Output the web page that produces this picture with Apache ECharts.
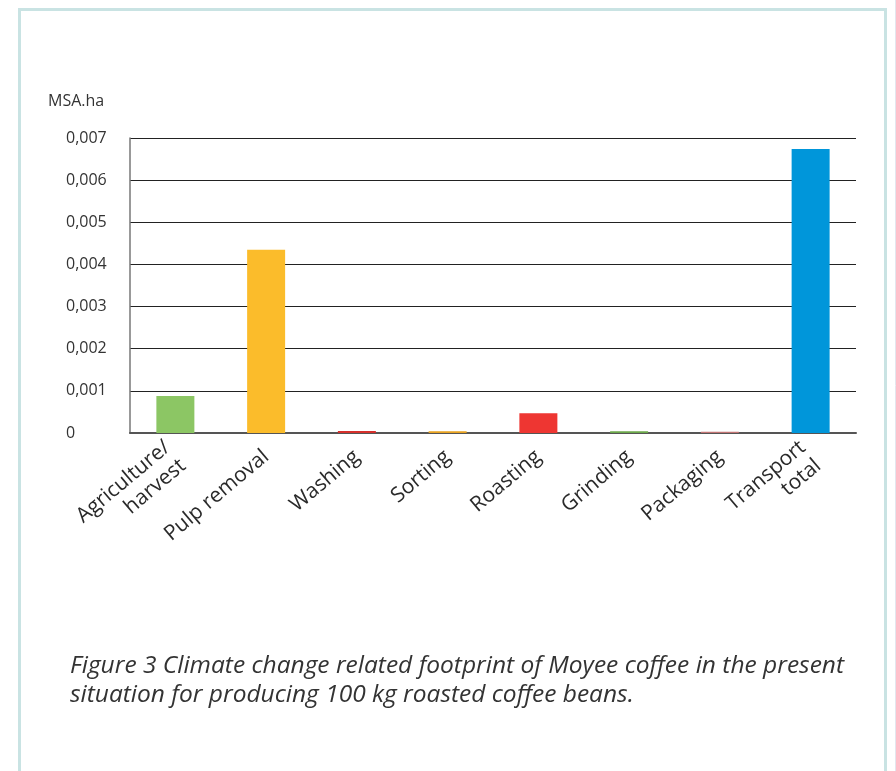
<!DOCTYPE html>
<html>
<head>
<meta charset="utf-8">
<script src="https://cdn.jsdelivr.net/npm/echarts@6/dist/echarts.min.js"></script>
<style>
html,body{margin:0;padding:0;background:#fff;}
#c{width:896px;height:771px;}
</style>
</head>
<body>
<div id="c"></div>
<script>
const categories = ['Agriculture/\nharvest','Pulp removal','Washing','Sorting','Roasting','Grinding','Packaging','Transport\ntotal'];
const values = [0.00088, 0.00435, 0.00005, 0.00004, 0.00047, 0.00004, 0.00003, 0.00674];
const barColors = ['#8CC664','#FBBC2B','#D6302C','#E9A321','#EE3632','#6CA94B','#C27474','#0096DA'];
const yTicks = {min:0, max:0.007, step:0.001};
const unitLabel = 'MSA.ha';
const captionLines = ['Figure 3 Climate change related footprint of Moyee coffee in the present','situation for producing 100 kg roasted coffee beans.'];

const chart = echarts.init(document.getElementById('c'), null, {renderer:'canvas'});
const font = '"Open Sans", "Noto Sans", sans-serif';
chart.setOption({
  animation:false,
  backgroundColor:'#fff',
  grid:{left:130, right:40, top:138, bottom:338},
  xAxis:{
    type:'category', data:categories,
    axisTick:{show:false},
    axisLine:{lineStyle:{color:'#555', width:2}},
    axisLabel:{rotate:40, interval:0, margin:21, fontSize:21, color:'#2a2a2a', fontFamily:font, lineHeight:24}
  },
  yAxis:{
    type:'value', min:yTicks.min, max:yTicks.max, interval:yTicks.step,
    axisLine:{show:true, lineStyle:{color:'#777', width:1.5}},
    axisTick:{show:false},
    splitLine:{lineStyle:{color:'#222', width:1}},
    axisLabel:{align:'left', margin:64, fontSize:16, color:'#333', fontFamily:font,
      formatter:v=> v===0 ? '0' : v.toFixed(3).replace('.',',')}
  },
  series:[{
    type:'bar', barWidth:38,
    data:values.map((v,i)=>({value:v, itemStyle:{color:barColors[i]}}))
  }],
  graphic:[
    {type:'rect', shape:{x:19.5,y:9.5,width:866,height:800}, style:{fill:'none', stroke:'#C9E3E3', lineWidth:3}, z:-1},
    {type:'line', shape:{x1:895.5,y1:0,x2:895.5,y2:771}, style:{stroke:'#E3E6EE', lineWidth:1}},
    {type:'text', left:48, top:93, style:{text:unitLabel, fontSize:16, fill:'#333', fontFamily:font}},
    {type:'text', left:70, top:652, style:{text:captionLines.join('\n'), fontSize:24.5, lineHeight:29, fill:'#333', fontStyle:'italic', fontFamily:font}}
  ]
});
</script>
</body>
</html>
